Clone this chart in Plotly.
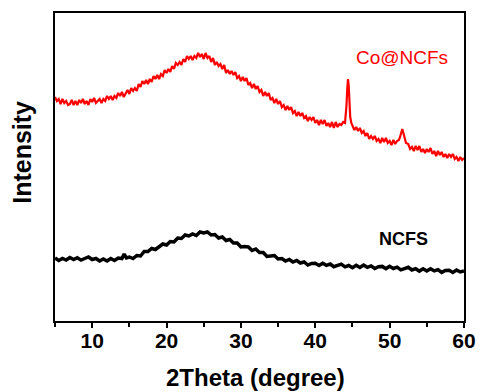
import plotly.graph_objects as go

# 2Theta positions (degrees) and intensities (a.u.)
co_x = [5.0, 5.25, 5.5, 5.75, 6.0, 6.25, 6.5, 6.75, 7.0, 7.25, 7.5, 7.75,
        8.0, 8.25, 8.5, 8.75, 9.0, 9.25, 9.5, 9.75, 10.0, 10.25, 10.5, 10.75,
        11.0, 11.25, 11.5, 11.75, 12.0, 12.25, 12.5, 12.75, 13.0, 13.25, 13.5, 13.75,
        14.0, 14.25, 14.5, 14.75, 15.0, 15.25, 15.5, 15.75, 16.0, 16.25, 16.5, 16.75,
        17.0, 17.25, 17.5, 17.75, 18.0, 18.25, 18.5, 18.75, 19.0, 19.25, 19.5, 19.75,
        20.0, 20.25, 20.5, 20.75, 21.0, 21.25, 21.5, 21.75, 22.0, 22.25, 22.5, 22.75,
        23.0, 23.25, 23.5, 23.75, 24.0, 24.25, 24.5, 24.75, 25.0, 25.25, 25.5, 25.75,
        26.0, 26.25, 26.5, 26.75, 27.0, 27.25, 27.5, 27.75, 28.0, 28.25, 28.5, 28.75,
        29.0, 29.25, 29.5, 29.75, 30.0, 30.25, 30.5, 30.75, 31.0, 31.25, 31.5, 31.75,
        32.0, 32.25, 32.5, 32.75, 33.0, 33.25, 33.5, 33.75, 34.0, 34.25, 34.5, 34.75,
        35.0, 35.25, 35.5, 35.75, 36.0, 36.25, 36.5, 36.75, 37.0, 37.25, 37.5, 37.75,
        38.0, 38.25, 38.5, 38.75, 39.0, 39.25, 39.5, 39.75, 40.0, 40.25, 40.5, 40.75,
        41.0, 41.25, 41.5, 41.75, 42.0, 42.25, 42.5, 42.75, 43.0, 43.25, 43.5, 43.75,
        44.0, 44.1, 44.2, 44.3, 44.4, 44.5, 44.6, 44.7, 44.85,
        45.0, 45.25, 45.5, 45.75, 46.0, 46.25, 46.5, 46.75, 47.0, 47.25, 47.5, 47.75,
        48.0, 48.25, 48.5, 48.75, 49.0, 49.25, 49.5, 49.75, 50.0, 50.25, 50.5, 50.75,
        51.0, 51.25, 51.4, 51.55, 51.7, 51.85, 52.0, 52.2, 52.5, 52.75,
        53.0, 53.25, 53.5, 53.75, 54.0, 54.25, 54.5, 54.75, 55.0, 55.25, 55.5, 55.75,
        56.0, 56.25, 56.5, 56.75, 57.0, 57.25, 57.5, 57.75, 58.0, 58.25, 58.5, 58.75,
        59.0, 59.25, 59.5, 59.75, 60.0]
co_y = [224, 220, 222, 217, 222, 218, 220, 216, 217, 221, 216, 220,
        216, 221, 218, 222, 217, 220, 216, 222, 219, 223, 218, 220,
        222, 218, 222, 220, 225, 222, 225, 221, 225, 223, 228, 225,
        229, 224, 228, 231, 227, 233, 230, 233, 230, 237, 234, 240,
        237, 241, 237, 242, 239, 245, 242, 246, 242, 247, 245, 251,
        248, 252, 249, 255, 252, 258, 256, 259, 256, 262, 259, 265,
        262, 265, 261, 265, 263, 268, 264, 267, 262, 268, 263, 265,
        259, 263, 256, 259, 255, 257, 252, 256, 248, 251, 247, 250,
        246, 249, 243, 245, 240, 244, 240, 243, 236, 238, 233, 237,
        232, 235, 229, 231, 225, 229, 225, 228, 221, 223, 218, 222,
        217, 220, 214, 216, 211, 215, 211, 214, 208, 210, 205, 209,
        205, 208, 203, 205, 200, 204, 201, 204, 198, 201, 196, 201,
        197, 201, 195, 198, 194, 199, 193, 199, 194, 197, 196, 199,
        198, 205, 216, 232, 242, 235, 218, 204, 198,
        195, 191, 194, 190, 193, 188, 190, 185, 188, 182, 185, 182,
        185, 180, 182, 178, 183, 179, 183, 178, 180, 176, 181, 177,
        180, 181, 184, 189, 192, 188, 183, 178, 177, 172,
        174, 170, 175, 171, 175, 169, 172, 168, 172, 169, 173, 167,
        170, 165, 170, 166, 169, 164, 167, 163, 167, 164, 167, 162,
        164, 160, 164, 161, 163]

ncfs_x = [5.0, 5.5, 6.0, 6.5, 7.0, 7.5, 8.0, 8.5, 9.0, 9.5, 10.0, 10.5, 11.0, 11.5, 12.0, 12.5,
          13.0, 13.5, 14.0, 14.3, 14.6, 15.0, 15.5, 16.0, 16.5, 17.0, 17.5, 18.0, 18.5, 19.0,
          19.5, 20.0, 20.5, 21.0, 21.5, 22.0, 22.5, 23.0, 23.5, 24.0, 24.5, 25.0, 25.5, 26.0,
          26.5, 27.0, 27.5, 28.0, 28.5, 29.0, 29.5, 30.0, 30.5, 31.0, 31.5, 32.0, 32.5, 33.0,
          33.5, 34.0, 34.5, 35.0, 35.5, 36.0, 36.5, 37.0, 37.5, 38.0, 38.5, 39.0, 39.5, 40.0,
          40.5, 41.0, 41.5, 42.0, 42.5, 43.0, 43.5, 44.0, 44.5, 45.0, 45.5, 46.0, 46.5, 47.0,
          47.5, 48.0, 48.5, 49.0, 49.5, 50.0, 50.5, 51.0, 51.5, 52.0, 52.5, 53.0, 53.5, 54.0,
          54.5, 55.0, 55.5, 56.0, 56.5, 57.0, 57.5, 58.0, 58.5, 59.0, 59.5, 60.0]
ncfs_y = [63, 60.5, 62.5, 61, 63.5, 61.5, 63.3, 60.9, 62.5, 64, 61.5, 62.5, 60, 62, 60, 62.5,
          60.5, 63, 62.5, 67, 63, 64, 62.5, 65.5, 65, 69.5, 69.5, 72.5, 71.5, 74.5,
          77, 76, 79.5, 79, 83, 82.5, 86, 85, 87, 85.5, 89, 88, 89, 86,
          86.5, 83, 84, 80.5, 81.5, 78, 78, 74, 74.5, 74, 70.5, 72, 68.5, 68.5,
          64.5, 65, 65.5, 62, 62.5, 60, 61.5, 59, 60.5, 58, 59, 56, 57.5, 57.7,
          55.5, 57.8, 55.7, 57, 54.3, 55.6, 56.9, 54.2, 55.5, 53.3, 55.7, 53.5, 55.9, 53.7,
          55.1, 52.5, 54.3, 54.6, 52.4, 54.7, 52.5, 53.8, 51.1, 52.4, 53.7, 51, 52.3, 49.9,
          52.2, 50, 52.3, 50.1, 51.4, 48.6, 50.5, 50.7, 48.6, 51, 49, 50]

x_ticks = [10, 20, 30, 40, 50, 60]
x_tick_labels = ["10", "20", "30", "40", "50", "60"]
series_labels = ["Co@NCFs", "NCFS"]

FONT = "Arial, Liberation Sans, sans-serif"

fig = go.Figure()
fig.add_trace(go.Scatter(x=ncfs_x, y=ncfs_y, mode="lines",
                         line=dict(color="black", width=3.5), showlegend=False))
fig.add_trace(go.Scatter(x=co_x, y=co_y, mode="lines",
                         line=dict(color="#ff0000", width=2.2), showlegend=False))

fig.add_annotation(x=51.6, y=264, xref="x", yref="y", text=series_labels[0], showarrow=False,
                   font=dict(family=FONT, size=19, color="#ff0000"))
fig.add_annotation(x=51.9, y=82, xref="x", yref="y", text=series_labels[1], showarrow=False,
                   font=dict(family=FONT, size=18, color="black", weight="bold"))

fig.add_annotation(x=-0.081, y=0.549, xref="paper", yref="paper", text="Intensity",
                   textangle=-90, showarrow=False, xanchor="center", yanchor="middle",
                   font=dict(family=FONT, size=25, color="black", weight="bold"))
fig.add_annotation(x=0.490, y=-0.182, xref="paper", yref="paper", text="2Theta (degree)",
                   showarrow=False, xanchor="center", yanchor="middle",
                   font=dict(family=FONT, size=24, color="black", weight="bold"))

fig.update_layout(
    template=None,
    width=480, height=392,
    margin=dict(l=55, r=16, t=13, b=71, autoexpand=False),
    paper_bgcolor="white", plot_bgcolor="white",
    xaxis=dict(range=[5, 60], tickvals=x_ticks, ticktext=x_tick_labels, automargin=False,
               showline=True, mirror=True, linewidth=2, linecolor="black",
               ticks="outside", ticklen=5, tickwidth=2, tickcolor="black",
               ticklabelstandoff=-5,
               minor=dict(dtick=5, tick0=5, ticks="outside", ticklen=4, tickwidth=2, tickcolor="black"),
               showgrid=False, zeroline=False,
               tickfont=dict(family=FONT, size=21, color="black", weight="bold")),
    yaxis=dict(range=[0, 308], showline=True, mirror=True, linewidth=2, linecolor="black",
               automargin=False,
               showticklabels=False, ticks="", showgrid=False, zeroline=False),
)

fig.write_html("out.html", config={"displayModeBar": False},
               post_script="document.body.style.margin='0';document.body.style.overflow='hidden';")
